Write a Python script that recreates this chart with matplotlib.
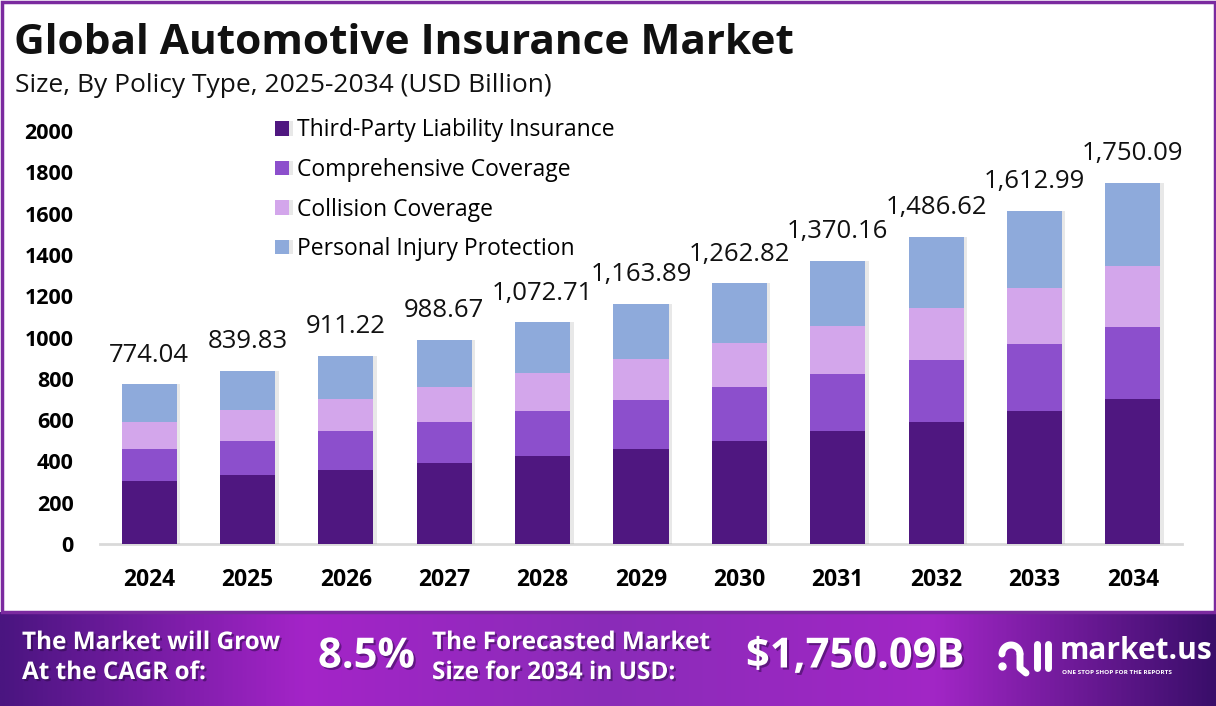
import numpy as np
import matplotlib
matplotlib.use("Agg")
import matplotlib.pyplot as plt
from matplotlib.colors import LinearSegmentedColormap
from matplotlib.patches import Rectangle
import matplotlib.patheffects as pe

plt.rcParams['font.family'] = ['Open Sans', 'DejaVu Sans']

# data
years = ['2024', '2025', '2026', '2027', '2028', '2029', '2030', '2031', '2032', '2033', '2034']
third_party = [306, 336, 360, 394, 428, 462, 501, 545, 593, 642, 700]
comprehensive = [156, 165, 185, 199, 214, 234, 258, 277, 297, 326, 351]
collision = [131, 146, 155, 166, 185, 199, 214, 233, 253, 272, 296]
personal_injury = [181, 193, 211, 230, 246, 269, 290, 315, 344, 373, 403]
totals = [774.04, 839.83, 911.22, 988.67, 1072.71, 1163.89, 1262.82, 1370.16, 1486.62, 1612.99, 1750.09]

series_names = ['Third-Party Liability Insurance', 'Comprehensive Coverage',
                'Collision Coverage', 'Personal Injury Protection']
colors = ['#4f1780', '#8c4fcc', '#d3a6eb', '#8eaadb']

cagr_text = '8.5%'
forecast_text = '$1,750.09B'

W, H = 1216, 706
fig = plt.figure(figsize=(W / 100, H / 100), dpi=100)
fig.patch.set_facecolor('white')

# purple frame around the white area
fig.patches.append(Rectangle((1.5 / W, 94 / H), (W - 3) / W, (H - 95.5) / H,
                             transform=fig.transFigure, fill=False,
                             edgecolor='#7b2a9f', linewidth=2.5, zorder=0))

# titles
fig.text(14 / W, 1 - 44 / H, 'Global Automotive Insurance Market', fontsize=30.5,
         fontweight='bold', color='#111111', va='center', ha='left')
fig.text(15 / W, 1 - 85 / H, 'Size, By Policy Type, 2025-2034 (USD Billion)', fontsize=19,
         color='#111111', va='center', ha='left')

# main chart
ax = fig.add_axes([100 / W, 162 / H, 1082 / W, 413 / H])
x = np.arange(len(years))
shadow = [pe.SimplePatchShadow(offset=(2.5, 0), shadow_rgbFace='#9a9a9a', alpha=0.22), pe.Normal()]

bottom = np.zeros(len(years))
for vals, name, col in zip([third_party, comprehensive, collision, personal_injury], series_names, colors):
    bars = ax.bar(x, vals, width=0.56, bottom=bottom, color=col, label=name, zorder=3)
    for b in bars:
        b.set_path_effects(shadow)
    bottom += np.array(vals)

for xi, top, t in zip(x, bottom, totals):
    ax.annotate(f'{t:,.2f}', (xi, top), xytext=(0, 12), textcoords='offset points',
                ha='center', va='bottom', fontsize=18.5, color='#111111')

ax.set_xlim(-0.5, 10.5)
ax.set_ylim(0, 2000)
ax.set_yticks(range(0, 2001, 200))
ax.set_xticks(x)
ax.set_xticklabels(years)
ax.tick_params(axis='y', length=0, labelsize=15.5, pad=19)
ax.tick_params(axis='x', length=0, labelsize=16.5, pad=17)
for lab in ax.get_xticklabels() + ax.get_yticklabels():
    lab.set_fontweight('bold')
for s in ['top', 'right', 'left']:
    ax.spines[s].set_visible(False)
ax.spines['bottom'].set_color('#d9d9d9')
ax.spines['bottom'].set_linewidth(2)

ax.legend(loc='upper left', bbox_to_anchor=(264 / W, 1 - 107 / H), bbox_transform=fig.transFigure,
          frameon=False, fontsize=16.5, handlelength=0.6, handleheight=0.6,
          handletextpad=0.35, labelspacing=0.68, borderpad=0)

# bottom banner with gradient
bax = fig.add_axes([0, 0, 1, 94 / H])
cmap = LinearSegmentedColormap.from_list('banner', [(0, '#4a1580'), (0.25, '#a424c8'), (0.5, '#8a2cb8'),
                                                    (0.77, '#a226c6'), (1.0, '#3a0e6a')])
grad = np.linspace(0, 1, 512).reshape(1, -1)
bax.imshow(grad, aspect='auto', cmap=cmap, extent=(0, W, 0, 94))
bax.set_xlim(0, W)
bax.set_ylim(0, 94)
bax.axis('off')

txt_shadow = [pe.withSimplePatchShadow(offset=(1.5, -1.5), shadow_rgbFace='#2a0845', alpha=0.5)]
bax.text(22, 63, 'The Market will Grow', fontsize=17.5, fontweight='bold', color='white',
         va='center', ha='left', path_effects=txt_shadow)
bax.text(22, 33, 'At the CAGR of:', fontsize=17.5, fontweight='bold', color='white',
         va='center', ha='left', path_effects=txt_shadow)
bax.text(318, 49, cagr_text, fontsize=30, fontweight='bold', color='white',
         va='center', ha='left', path_effects=txt_shadow)
bax.text(432, 63, 'The Forecasted Market', fontsize=17.5, fontweight='bold', color='white',
         va='center', ha='left', path_effects=txt_shadow)
bax.text(432, 33, 'Size for 2034 in USD:', fontsize=17.5, fontweight='bold', color='white',
         va='center', ha='left', path_effects=txt_shadow)
bax.text(746, 49, forecast_text, fontsize=30, fontweight='bold', color='white',
         va='center', ha='left', path_effects=txt_shadow)

# market.us logo
t = np.linspace(np.pi, 0, 40)
bax.plot(1011 + 9 * np.cos(t), 52 + 9 * np.sin(t), color='white', lw=5, solid_capstyle='round')
bax.plot([1020, 1020, 1026], [52, 38, 33], color='white', lw=5, solid_capstyle='round')
bax.plot([1037, 1037], [62, 38], color='white', lw=5, solid_capstyle='round')
bax.plot([1048, 1048], [62, 38], color='white', lw=5, solid_capstyle='round')
bax.plot([1002], [40], marker='o', color='white', ms=5)
bax.text(1060, 55, 'market.us', fontsize=21.5, fontweight='bold', color='white', va='center', ha='left')
bax.text(1062, 34, 'ONE STOP SHOP FOR THE REPORTS', fontsize=4.6, fontweight='bold', color='white',
         va='center', ha='left')

fig.savefig('out.png', dpi=100)
